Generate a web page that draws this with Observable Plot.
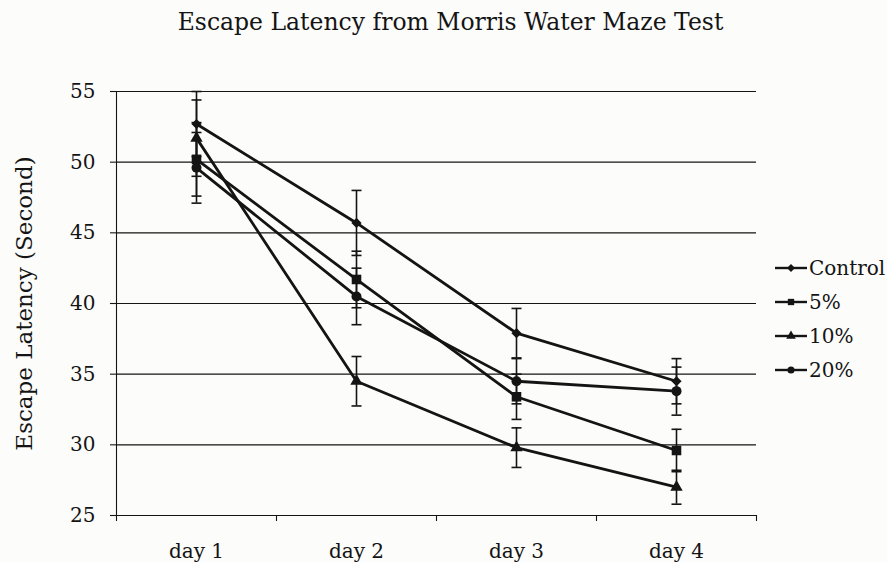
<!DOCTYPE html>
<html>
<head>
<meta charset="utf-8">
<script src="https://cdn.jsdelivr.net/npm/d3@7"></script>
<script src="https://cdn.jsdelivr.net/npm/@observablehq/plot@0.6"></script>
<style>
  html, body { margin: 0; padding: 0; background: #fcfcfb; }
  #wrap { position: relative; width: 887px; height: 562px; overflow: hidden; font-family: "DejaVu Serif", serif; color: #151515; }
  #legend { position: absolute; left: 775px; top: 251px; }
  .item { display: flex; align-items: center; height: 34px; font-size: 20px; white-space: nowrap; }
  .item svg { margin-right: 1px; }
</style>
</head>
<body>
<div id="wrap"><div id="chart"></div><div id="legend"></div></div>
<script>
// ---- data ----
const title = "Escape Latency from Morris Water Maze Test";
const yLabel = "Escape Latency (Second)";
const days = ["day 1", "day 2", "day 3", "day 4"];
const series = ["Control", "5%", "10%", "20%"];
const control = [52.7, 45.7, 37.9, 34.5];
const pct5    = [50.2, 41.7, 33.4, 29.6];
const pct10   = [51.7, 34.5, 29.8, 27.0];
const pct20   = [49.6, 40.5, 34.5, 33.8];
const controlErr = [2.3, 2.3, 1.75, 1.6];
const pct5Err    = [2.6, 2.0, 1.6, 1.5];
const pct10Err   = [2.7, 1.75, 1.4, 1.2];
const pct20Err   = [2.5, 2.0, 1.6, 1.7];
const yTicks = [25, 30, 35, 40, 45, 50, 55];

// ---- derived tables ----
const values = [control, pct5, pct10, pct20];
const errs = [controlErr, pct5Err, pct10Err, pct20Err];
const dayIndex = days.map((d, i) => i + 1);
const xDomain = [dayIndex[0] - 0.5, dayIndex[dayIndex.length - 1] + 0.5];
const boundaries = [...dayIndex.map(i => i - 0.5), xDomain[1]];
const rows = series.flatMap((s, k) => dayIndex.map((x, i) => ({
  series: s, day: x, value: values[k][i], lo: values[k][i] - errs[k][i], hi: values[k][i] + errs[k][i]
})));
const caps = rows.flatMap(r => [{day: r.day, y: r.lo}, {day: r.day, y: r.hi}]);

const symbolOf = {"Control": "diamond2", "5%": "square", "10%": "triangle", "20%": "circle"};
const sizeOf = {"Control": 4.6, "5%": 5.4, "10%": 4.6, "20%": 5.0};
const ink = "#141414";
const capSymbol = { draw(ctx) { ctx.moveTo(-5, 0); ctx.lineTo(5, 0); } };

const chart = Plot.plot({
  width: 887,
  height: 562,
  marginLeft: 116,
  marginRight: 131,
  marginTop: 91,
  marginBottom: 47,
  style: { fontFamily: "DejaVu Serif, serif", background: "transparent", color: ink },
  x: { domain: xDomain },
  y: { domain: [yTicks[0], yTicks[yTicks.length - 1]] },
  marks: [
    Plot.gridY(yTicks, { stroke: ink, strokeOpacity: 1, strokeWidth: 1.1 }),
    Plot.frame({ anchor: "left", stroke: ink, strokeWidth: 1.1 }),
    Plot.axisY(yTicks, { tickSize: 6, tickPadding: 15, fontSize: 20, label: null, stroke: ink, strokeWidth: 1.1 }),
    Plot.axisX(boundaries, { tickSize: 6, tickFormat: () => "", label: null, stroke: ink, strokeWidth: 1.1 }),
    Plot.axisX(dayIndex, { tickSize: 0, tickPadding: 28, fontSize: 20, label: null, tickFormat: i => days[i - 1] }),
    Plot.ruleX(rows, { x: "day", y1: "lo", y2: "hi", stroke: ink, strokeWidth: 1.6 }),
    Plot.dot(caps, { x: "day", y: "y", symbol: capSymbol, stroke: ink, strokeWidth: 1.6, fill: "none" }),
    Plot.line(rows, { x: "day", y: "value", z: "series", stroke: ink, strokeWidth: 2.8 }),
    ...series.map(s => Plot.dot(rows.filter(r => r.series === s), {
      x: "day", y: "value", symbol: symbolOf[s], r: sizeOf[s], fill: ink, stroke: "none"
    })),
    Plot.text([title], { frameAnchor: "top", dx: 14, dy: -69, lineAnchor: "middle", fontSize: 23.5, fill: ink }),
    Plot.text([yLabel], { frameAnchor: "left", dx: -92, rotate: -90, textAnchor: "middle", lineAnchor: "middle", fontSize: 23, fill: ink })
  ]
});
document.getElementById("chart").appendChild(chart);

// ---- legend ----
const legend = document.getElementById("legend");
series.forEach(s => {
  const item = document.createElement("div");
  item.className = "item";
  const svg = d3.create("svg").attr("width", 33).attr("height", 16);
  svg.append("line").attr("x1", 0).attr("x2", 32).attr("y1", 8).attr("y2", 8).attr("stroke", ink).attr("stroke-width", 2.4);
  const sym = {"diamond2": d3.symbolDiamond2, "square": d3.symbolSquare, "triangle": d3.symbolTriangle, "circle": d3.symbolCircle}[symbolOf[s]];
  svg.append("path").attr("transform", "translate(16,8)").attr("d", d3.symbol(sym, 40)()).attr("fill", ink);
  item.appendChild(svg.node());
  const t = document.createElement("span");
  t.textContent = s;
  item.appendChild(t);
  legend.appendChild(item);
});
</script>
</body>
</html>
